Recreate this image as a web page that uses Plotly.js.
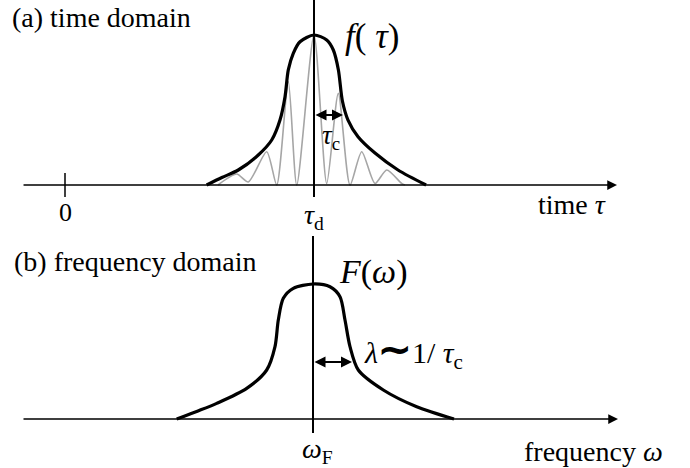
<!DOCTYPE html>
<html>
<head>
<meta charset="utf-8">
<script src="https://cdn.plot.ly/plotly-3.0.1.min.js"></script>
<style>html,body{margin:0;padding:0;background:#fff;}#chart{width:690px;height:468px;}</style>
</head>
<body>
<div id="chart"></div>
<script>
// (a) time domain: envelope f(tau), tau_d = 5
const tauEnv = [2.845, 3.15, 3.480, 3.881, 4.151, 4.317, 4.418, 4.484, 4.584, 4.719, 5.0, 5.255, 5.388, 5.49, 5.57, 5.683, 5.884, 6.225, 6.687, 7.25];
const fEnv   = [0.0, 0.05, 0.10, 0.20, 0.30, 0.433, 0.589, 0.767, 0.878, 0.955, 1.0, 0.967, 0.90, 0.767, 0.56, 0.433, 0.322, 0.213, 0.10, 0.0];
// oscillating field under the envelope
const tauOsc = [3.072, 3.448, 3.681, 4.050, 4.251, 4.484, 4.653, 5.0, 5.255, 5.488, 5.723, 5.958, 6.225, 6.460, 6.761, 6.827];
const fOsc   = [0.0, 0.073, 0.02, 0.222, 0.0, 0.689, 0.0, 1.0, 0.01, 0.611, 0.0, 0.222, 0.01, 0.10, 0.01, 0.0];
// (b) frequency domain: spectrum F(omega), omega_F = 0
const omegaEnv = [-2.726, -2.3, -1.926, -1.326, -0.926, -0.76, -0.694, -0.594, -0.394, 0.0, 0.34, 0.54, 0.64, 0.74, 0.906, 1.406, 2.074, 2.82];
const FEnv     = [0.0, 0.06, 0.116, 0.227, 0.363, 0.536, 0.733, 0.894, 0.968, 1.0, 0.98, 0.906, 0.733, 0.536, 0.363, 0.215, 0.091, 0.0];
// markers on the axes
const tauTicks = [0, 5];
const tauTickText = ['0', '<i>τ</i><sub>d</sub>'];
const tauC = 0.582;       // half-width marker in time
const lambdaW = 0.78;     // half-width marker in frequency

const serif = 'Liberation Serif, Times New Roman, serif';
const black = '#000';

const traces = [
  {x: tauOsc, y: fOsc, xaxis: 'x', yaxis: 'y', mode: 'lines',
   line: {color: '#a6a6a6', width: 1.6, shape: 'spline', smoothing: 0.7}, hoverinfo: 'skip'},
  {x: tauEnv, y: fEnv, xaxis: 'x', yaxis: 'y', mode: 'lines',
   line: {color: black, width: 3.2, shape: 'spline', smoothing: 0.8}, hoverinfo: 'skip'},
  {x: omegaEnv, y: FEnv, xaxis: 'x2', yaxis: 'y2', mode: 'lines',
   line: {color: black, width: 3.2, shape: 'spline', smoothing: 0.8}, hoverinfo: 'skip'}
];

const hidden = {visible: false, showgrid: false, zeroline: false, fixedrange: true};

const shapes = [
  {type: 'line', xref: 'x', yref: 'y', x0: tauTicks[0], x1: tauTicks[0], y0: 0.08, y1: -0.08, line: {color: black, width: 1.5}},
  {type: 'line', xref: 'x', yref: 'y', x0: tauTicks[1], x1: tauTicks[1], y0: 1.24, y1: -0.08, line: {color: black, width: 2}},
  {type: 'line', xref: 'x2', yref: 'y2', x0: 0, x1: 0, y0: 1.356, y1: -0.104, line: {color: black, width: 2}}
];

const annotations = [
  {xref: 'x', yref: 'y', axref: 'x', ayref: 'y', x: 11.084, y: 0, ax: -0.863, ay: 0,
   showarrow: true, arrowhead: 2, arrowsize: 1.3, arrowwidth: 1.5, arrowcolor: black, text: ''},
  {xref: 'x2', yref: 'y2', axref: 'x2', ayref: 'y2', x: 6.1, y: 0, ax: -5.82, ay: 0,
   showarrow: true, arrowhead: 2, arrowsize: 1.3, arrowwidth: 1.5, arrowcolor: black, text: ''},
  {xref: 'x', yref: 'y', axref: 'x', ayref: 'y', x: tauTicks[1] + tauC, y: 0.467, ax: tauTicks[1], ay: 0.467,
   showarrow: true, arrowhead: 2, startarrowhead: 2, arrowside: 'end+start', arrowsize: 1.1, startarrowsize: 1.1,
   arrowwidth: 2, arrowcolor: black, text: ''},
  {xref: 'x2', yref: 'y2', axref: 'x2', ayref: 'y2', x: lambdaW, y: 0.422, ax: 0, ay: 0.422,
   showarrow: true, arrowhead: 2, startarrowhead: 2, arrowside: 'end+start', arrowsize: 1.1, startarrowsize: 1.1,
   arrowwidth: 2, arrowcolor: black, text: ''},
  {xref: 'paper', yref: 'paper', x: 10/690, y: 1 - 18/468, xanchor: 'left', yanchor: 'middle', showarrow: false,
   text: '(a) time domain', font: {family: serif, size: 28, color: black}},
  {xref: 'paper', yref: 'paper', x: 12/690, y: 1 - 261/468, xanchor: 'left', yanchor: 'middle', showarrow: false,
   text: '(b) frequency domain', font: {family: serif, size: 28, color: black}},
  {xref: 'x', yref: 'y', x: tauTicks[0], y: -0.18, showarrow: false, text: tauTickText[0],
   font: {family: serif, size: 26, color: black}},
  {xref: 'x', yref: 'y', x: tauTicks[1], y: -0.21, showarrow: false, text: tauTickText[1],
   font: {family: serif, size: 28, color: black}},
  {xref: 'x', yref: 'y', x: 10.18, y: -0.127, showarrow: false, text: 'time <i>τ</i>',
   font: {family: serif, size: 28, color: black}},
  {xref: 'x', yref: 'y', x: 6.165, y: 0.99, showarrow: false, text: '<i>f</i>( <i>τ</i>)',
   font: {family: serif, size: 35, color: black}},
  {xref: 'x', yref: 'y', x: 5.34, y: 0.32, showarrow: false, text: '<i>τ</i><sub>c</sub>',
   font: {family: serif, size: 27, color: black}},
  {xref: 'x2', yref: 'y2', x: 1.2, y: 1.09, showarrow: false, text: '<i>F</i>(<i>ω</i>)',
   font: {family: serif, size: 34, color: black}},
  {xref: 'x2', yref: 'y2', x: 0.98, y: 0.51, xanchor: 'left', showarrow: false,
   text: '<i>λ</i><span style="font-size:40px;font-weight:bold">∼</span>1/ <i>τ</i><sub>c</sub>',
   font: {family: serif, size: 30, color: black}},
  {xref: 'x2', yref: 'y2', x: 0.08, y: -0.23, showarrow: false, text: '<i>ω</i><sub>F</sub>',
   font: {family: serif, size: 28, color: black}},
  {xref: 'x2', yref: 'y2', x: 5.6, y: -0.237, showarrow: false, text: 'frequency <i>ω</i>',
   font: {family: serif, size: 28, color: black}}
];

const layout = {
  width: 690, height: 468,
  margin: {l: 0, r: 0, t: 0, b: 0, pad: 0},
  paper_bgcolor: '#fff', plot_bgcolor: '#fff',
  showlegend: false,
  xaxis: Object.assign({range: [-65/49.8, 625/49.8], domain: [0, 1]}, hidden),
  yaxis: Object.assign({range: [-283/150, 185/150], domain: [0, 1]}, hidden),
  xaxis2: Object.assign({range: [-313/50, 377/50], overlaying: 'x'}, hidden),
  yaxis2: Object.assign({range: [-49/135, 419/135], overlaying: 'y'}, hidden),
  shapes: shapes,
  annotations: annotations
};

Plotly.newPlot('chart', traces, layout, {staticPlot: true, displayModeBar: false});
</script>
</body>
</html>
